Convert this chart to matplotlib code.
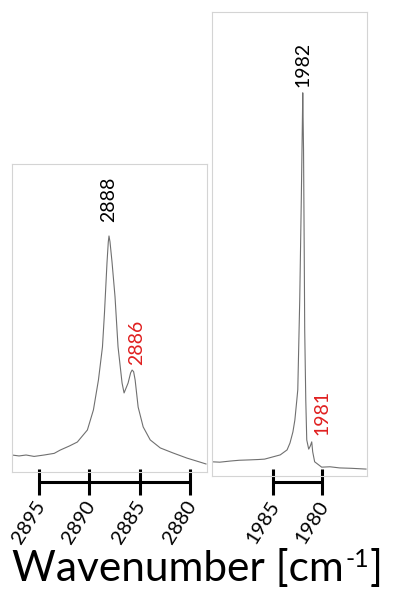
import matplotlib
matplotlib.use("Agg")
import matplotlib.pyplot as plt
import matplotlib.transforms as mtransforms

plt.rcParams['font.family'] = ['Lato', 'DejaVu Sans']

# --- spectrum (normalised intensity, main peak = 1) ---
left_wn = [2897.7, 2897.0, 2896.3, 2895.5, 2894.5, 2893.5, 2892.9, 2892.0, 2891.2,
           2890.2, 2889.6, 2889.1, 2888.7, 2888.5, 2888.25, 2888.12, 2888.05, 2887.95,
           2887.75, 2887.45, 2887.15, 2886.75, 2886.55, 2886.15, 2885.9, 2885.75,
           2885.6, 2885.45, 2885.15, 2884.65, 2883.95, 2882.95, 2881.7, 2880.3,
           2879.0, 2878.4]
left_int = [0.072, 0.068, 0.072, 0.066, 0.072, 0.079, 0.093, 0.110, 0.127,
            0.178, 0.263, 0.390, 0.530, 0.674, 0.886, 0.975, 1.0, 0.975,
            0.89, 0.742, 0.530, 0.377, 0.335, 0.377, 0.420, 0.432,
            0.425, 0.390, 0.275, 0.191, 0.136, 0.102, 0.081, 0.059,
            0.042, 0.034]

right_wn = [1991.3, 1990.5, 1989.4, 1988.5, 1987.4, 1986.5, 1985.9, 1984.3, 1983.6,
            1983.3, 1983.0, 1982.8, 1982.6, 1982.5, 1982.3, 1982.14, 1982.04, 1981.99,
            1981.91, 1981.84, 1981.79, 1981.68, 1981.58, 1981.38, 1981.22, 1981.07,
            1980.97, 1980.77, 1980.05, 1979.2, 1978.2, 1977.0, 1975.5]
right_int = [0.037, 0.036, 0.039, 0.041, 0.042, 0.043, 0.044, 0.055, 0.068,
             0.086, 0.115, 0.146, 0.198, 0.225, 0.460, 0.721, 0.903, 1.0,
             0.851, 0.590, 0.381, 0.198, 0.094, 0.070, 0.078, 0.089,
             0.063, 0.037, 0.023, 0.024, 0.021, 0.020, 0.018]

left_ticks = [2895, 2890, 2885, 2880]
right_ticks = [1985, 1980]

# peak labels: text, wavenumber, label base height, colour
left_labels = [("2888", 2888.05, 1.06, "black"), ("2886", 2885.3, 0.455, "#e02020")]
right_labels = [("1982", 1982.0, 1.015, "black"), ("1981", 1980.05, 0.107, "#e02020")]

fig = plt.figure(figsize=(4, 5.92), dpi=100)
fig.patch.set_facecolor("white")

ax1 = fig.add_axes([0.03, 0.2027, 0.4875, 0.5203])
ax2 = fig.add_axes([0.53, 0.196, 0.3875, 0.7838])

panels = [
    (ax1, left_wn, left_int, (2897.7, 2878.3), (0, 1.305), left_ticks, left_labels),
    (ax2, right_wn, right_int, (1991.3, 1975.4), (0, 1.211), right_ticks, right_labels),
]

for ax, wn, inten, xl, yl, ticks, labels in panels:
    ax.plot(wn, inten, color="#707070", lw=0.8)
    ax.set_xlim(*xl)
    ax.set_ylim(*yl)
    ax.set_xticks([])
    ax.set_yticks([])
    for s in ax.spines.values():
        s.set_color("#d4d4d4")
        s.set_linewidth(0.8)

    for txt, x, y, c in labels:
        ax.text(x, y, txt, rotation=90, ha="center", va="bottom", color=c, fontsize=14)

    # scale bar under each panel
    trans = mtransforms.blended_transform_factory(ax.transData, fig.transFigure)
    ax.plot([min(ticks), max(ticks)], [0.1858, 0.1858], transform=trans,
            color="black", lw=2.2, clip_on=False, solid_capstyle="butt")
    for t in ticks:
        ax.plot([t, t], [0.2085, 0.1635], transform=trans, color="black",
                lw=2.2, clip_on=False, solid_capstyle="butt")
        ax.text(t - 0.2, 0.152, str(t), transform=trans, rotation=58,
                rotation_mode="anchor", ha="right", va="center", fontsize=14.5)

# axis title with a plain-hyphen superscript, built from three pieces
renderer = fig.canvas.get_renderer()
inv = fig.transFigure.inverted()
yb = 1 - 581 / 592
t1 = fig.text(12 / 400, yb, "Wavenumber [cm", fontsize=30.5, ha="left", va="baseline")
x1 = inv.transform(t1.get_window_extent(renderer))[1][0]
t2 = fig.text(x1 + 0.004, yb + 0.024, "-1", fontsize=18, ha="left", va="baseline")
x2 = inv.transform(t2.get_window_extent(renderer))[1][0]
fig.text(x2 + 0.002, yb, "]", fontsize=30.5, ha="left", va="baseline")

plt.savefig("out.png", dpi=100, facecolor="white")
